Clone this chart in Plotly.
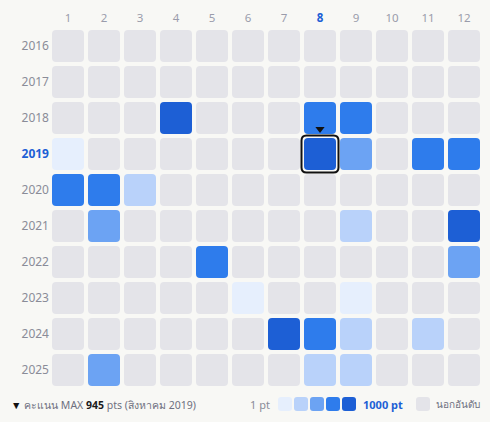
import plotly.graph_objects as go

months = [str(m) for m in range(1, 13)]
years = [str(y) for y in range(2016, 2026)]

# score level per cell (0 = out of ranking, 1..5 = light -> dark)
levels_2016 = [0, 0, 0, 0, 0, 0, 0, 0, 0, 0, 0, 0]
levels_2017 = [0, 0, 0, 0, 0, 0, 0, 0, 0, 0, 0, 0]
levels_2018 = [0, 0, 0, 5, 0, 0, 0, 4, 4, 0, 0, 0]
levels_2019 = [1, 0, 0, 0, 0, 0, 0, 5, 3, 0, 4, 4]
levels_2020 = [4, 4, 2, 0, 0, 0, 0, 0, 0, 0, 0, 0]
levels_2021 = [0, 3, 0, 0, 0, 0, 0, 0, 2, 0, 0, 5]
levels_2022 = [0, 0, 0, 0, 4, 0, 0, 0, 0, 0, 0, 3]
levels_2023 = [0, 0, 0, 0, 0, 1, 0, 0, 1, 0, 0, 0]
levels_2024 = [0, 0, 0, 0, 0, 0, 5, 4, 2, 0, 2, 0]
levels_2025 = [0, 3, 0, 0, 0, 0, 0, 2, 2, 0, 0, 0]
grid = [levels_2016, levels_2017, levels_2018, levels_2019, levels_2020,
        levels_2021, levels_2022, levels_2023, levels_2024, levels_2025]

max_year = '2019'
max_month = '8'
max_pts = 945

colors = ['#e4e4e9', '#e6effd', '#b9d2fa', '#6ca3f3', '#2e7cec', '#1d5fd5']
bg = '#f8f8f5'
blue = '#1d5fd5'

W, H = 490, 422
ml, mr, mt, mb = 50, 8, 28, 34
unit = 36.0  # px per cell step


def rrect(x0, y0, x1, y1, rx, ry):
    return (f"M {x0+rx},{y0} L {x1-rx},{y0} Q {x1},{y0} {x1},{y0+ry} "
            f"L {x1},{y1-ry} Q {x1},{y1} {x1-rx},{y1} L {x0+rx},{y1} "
            f"Q {x0},{y1} {x0},{y1-ry} L {x0},{y0+ry} Q {x0},{y0} {x0+rx},{y0} Z")


fig = go.Figure()
shapes = []
half = 16 / unit
rad = 4 / unit
hx, hy, ht = [], [], []
for i, yr in enumerate(years):
    for j, m in enumerate(months):
        lv = grid[i][j]
        cx, cy = j + 1, i
        shapes.append(dict(type='path', xref='x', yref='y',
                           path=rrect(cx - half, cy - half, cx + half, cy + half, rad, rad),
                           fillcolor=colors[lv], line=dict(width=0), layer='below'))
        hx.append(cx); hy.append(cy); ht.append(f"{yr}-{m}: level {lv}")

# highlight of max month
si = years.index(max_year)
sj = int(max_month)
ob = 18.5 / unit
shapes.append(dict(type='path', xref='x', yref='y',
                   path=rrect(sj - ob, si - ob, sj + ob, si + ob, 5 / unit, 5 / unit),
                   fillcolor='rgba(0,0,0,0)', line=dict(color='#111111', width=2)))

fig.add_trace(go.Scatter(x=hx, y=hy, mode='markers', text=ht, hoverinfo='text',
                         marker=dict(size=30, symbol='square', opacity=0),
                         showlegend=False))
fig.add_trace(go.Scatter(x=[sj], y=[si - 25 / unit], mode='markers', hoverinfo='skip',
                         marker=dict(symbol='triangle-down', size=8, color='#111111'),
                         showlegend=False))

# legend squares at the bottom (paper coords)
pw = W - ml - mr
ph = H - mt - mb


def px_x(p):
    return (p - ml) / pw


def px_y(p):
    return (H - mb - p) / ph


for k in range(1, 6):
    x0 = 278 + (k - 1) * 16
    shapes.append(dict(type='path', xref='paper', yref='paper',
                       path=rrect(px_x(x0), px_y(411), px_x(x0 + 14), px_y(397),
                                  3 / pw, 3 / ph),
                       fillcolor=colors[k], line=dict(width=0)))
shapes.append(dict(type='path', xref='paper', yref='paper',
                   path=rrect(px_x(416), px_y(411), px_x(430), px_y(397), 3 / pw, 3 / ph),
                   fillcolor=colors[0], line=dict(width=0)))

month_ticks = [f"<span style='color:{blue}'><b>{m}</b></span>" if m == max_month else m
               for m in months]
year_ticks = [f"<span style='color:{blue}'><b>{y}</b></span>" if y == max_year else y
              for y in years]

font = 'Noto Sans, Lato, sans-serif'
annotations = [
    dict(xref='paper', yref='paper', x=px_x(9), y=px_y(405), xanchor='left', yanchor='middle',
         showarrow=False, font=dict(size=10.5, color='#6e7080', family=font),
         text=("<span style='color:#111'>▼</span> คะแนน MAX "
               f"<b><span style='color:#1a1a1a'>{max_pts}</span></b> pts (สิงหาคม {max_year})")),
    dict(xref='paper', yref='paper', x=px_x(272), y=px_y(404), xanchor='right', yanchor='middle',
         showarrow=False, font=dict(size=11, color='#8a8c98', family=font), text='1 pt'),
    dict(xref='paper', yref='paper', x=px_x(361), y=px_y(404), xanchor='left', yanchor='middle',
         showarrow=False, font=dict(size=11, color=blue, family=font), text='<b>1000 pt</b>'),
    dict(xref='paper', yref='paper', x=px_x(434), y=px_y(404), xanchor='left', yanchor='middle',
         showarrow=False, font=dict(size=10, color='#6e7080', family=font), text='นอกอันดับ'),
]

fig.update_layout(
    width=W, height=H,
    margin=dict(l=ml, r=mr, t=mt, b=mb),
    paper_bgcolor=bg, plot_bgcolor=bg,
    shapes=shapes, annotations=annotations,
    font=dict(family=font),
    xaxis=dict(range=[0.5, 12.5], side='top', tickvals=list(range(1, 13)),
               ticktext=month_ticks, showgrid=False, zeroline=False, showline=False,
               ticks='', ticklabelstandoff=3,
               tickfont=dict(size=11.5, color='#9a9cab'), fixedrange=True),
    yaxis=dict(range=[9.5, -0.5], tickvals=list(range(10)), ticktext=year_ticks,
               showgrid=False, zeroline=False, showline=False, ticks='',
               tickfont=dict(size=12, color='#8a8c98'), fixedrange=True),
)

fig.write_html("out.html", config={'displayModeBar': False},
               post_script="document.body.style.margin='0';document.body.style.background='%s';" % bg)
